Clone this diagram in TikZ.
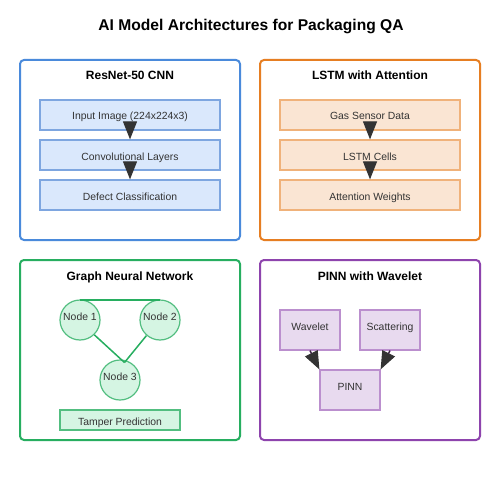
\documentclass[tikz,border=0pt]{standalone}
\usepackage{fontspec}
\setmainfont{Liberation Sans}
\usetikzlibrary{arrows.meta}
\definecolor{txt}{HTML}{333333}
\definecolor{bluep}{HTML}{4A8ADB}
\definecolor{bluef}{HTML}{DAE8FC}
\definecolor{blueb}{HTML}{7EA6E0}
\definecolor{orp}{HTML}{E67E22}
\definecolor{orf}{HTML}{FAE5D3}
\definecolor{orb}{HTML}{F0B27A}
\definecolor{grp}{HTML}{27AE60}
\definecolor{grf}{HTML}{D5F5E3}
\definecolor{grb}{HTML}{52BE80}
\definecolor{pup}{HTML}{8E44AD}
\definecolor{puf}{HTML}{E8DAEF}
\definecolor{pub}{HTML}{BB8FCE}
\definecolor{arr}{HTML}{333333}
\tikzset{
  panel/.style={draw=#1, line width=2pt, rounded corners=4pt, fill=white},
  ptitle/.style={font=\fontsize{12}{14}\selectfont\bfseries, text=black, anchor=base, inner sep=0pt},
  lbl/.style={font=\fontsize{10.4}{12}\selectfont, text=txt, anchor=base, inner sep=0pt},
  boxA/.style={draw=#1, line width=1.2pt},
  bigarrow/.style={-{Triangle[length=18pt,width=14pt]}, draw=arr, fill=arr, line width=1pt},
}
\begin{document}
\begin{tikzpicture}[x=1pt,y=-1pt]
\useasboundingbox (0,0) rectangle (500,500);
\fill[white] (0,0) rectangle (500,500);
\node[font=\fontsize{15.6}{19}\selectfont\bfseries, text=black, anchor=base, inner sep=0pt] (title) at (251,30.5) {AI Model Architectures for Packaging QA};

% panels
\draw[panel=bluep] (20,60) rectangle (240,240);
\draw[panel=orp] (260,60) rectangle (480,240);
\draw[panel=grp] (20,260) rectangle (240,440);
\draw[panel=pup] (260,260) rectangle (480,440);

\node[ptitle] (t1) at (130,80) {ResNet-50 CNN};
\node[ptitle] (t2) at (370,80) {LSTM with Attention};
\node[ptitle] (t3) at (130,280) {Graph Neural Network};
\node[ptitle] (t4) at (370,280) {PINN with Wavelet};

% ResNet
\foreach \n/\y/\t in {a1/115/{Input Image (224x224x3)}, a2/155/{Convolutional Layers}, a3/195/{Defect Classification}} {
  \node[boxA=blueb, fill=bluef, minimum width=180pt, minimum height=30pt, inner sep=0pt] (\n) at (130,\y) {};
  \node[lbl] at (130,\y+5) {\t};
}
\draw[bigarrow] (a1.south) -- (a2.north);
\draw[bigarrow] (a2.south) -- (a3.north);

% LSTM
\foreach \n/\y/\t in {b1/115/{Gas Sensor Data}, b2/155/{LSTM Cells}, b3/195/{Attention Weights}} {
  \node[boxA=orb, fill=orf, minimum width=180pt, minimum height=30pt, inner sep=0pt] (\n) at (370,\y) {};
  \node[lbl] at (370,\y+5) {\t};
}
\draw[bigarrow] (b1.south) -- (b2.north);
\draw[bigarrow] (b2.south) -- (b3.north);

% GNN
\tikzset{gnode/.style={circle, draw=grb, fill=grf, line width=1.2pt, minimum size=40pt, inner sep=0pt}}
\node[gnode] (n1) at (80,320) {};
\node[gnode] (n2) at (160,320) {};
\node[gnode] (n3) at (120,380) {};
\node[lbl] at (80,320) {Node 1};
\node[lbl] at (160,320) {Node 2};
\node[lbl] at (120,380) {Node 3};
\coordinate (m) at (124.5,362.5);
\draw[grp, line width=1.8pt] ([yshift=-0.5pt]n1.north) -- ([yshift=-0.5pt]n2.north);
\draw[grp, line width=1.5pt] (n1.-46) -- (m);
\draw[grp, line width=1.5pt] (n2.-131) -- (m);
\node[boxA=grb, fill=grf, minimum width=120pt, minimum height=20pt, inner sep=0pt] (tp) at (120,420) {};
\node[lbl] at (120,425) {Tamper Prediction};

% PINN
\tikzset{pbox/.style={boxA=pub, fill=puf, minimum width=60pt, minimum height=40pt, inner sep=0pt}}
\node[pbox] (w) at (310,330) {};
\node[pbox] (s) at (390,330) {};
\node[pbox] (p) at (350,390) {};
\node[lbl] at (310,330) {Wavelet};
\node[lbl] at (390,330) {Scattering};
\node[lbl] at (350,390) {PINN};
\draw[pup, line width=1.5pt] (w.south) -- ++(2,4);
\draw[pup, line width=1.5pt] (s.south) -- ++(-2,4);
\draw[bigarrow] (w.south) -- (p.north west);
\draw[bigarrow] (s.south) -- (p.north east);
\end{tikzpicture}
\end{document}
